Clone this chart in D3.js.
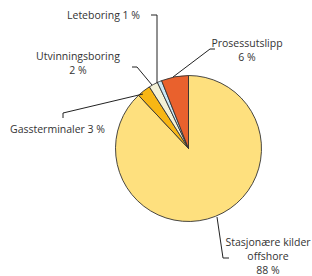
<!DOCTYPE html>
<html><head><meta charset="utf-8">
<script src="https://cdn.jsdelivr.net/npm/d3@7"></script>
<style>html,body{margin:0;padding:0;background:#fff;}svg{display:block;}</style>
</head><body>
<svg id="c" width="312" height="276"></svg>
<script>
const categories = ["Stasjonære kilder offshore", "Gassterminaler", "Utvinningsboring", "Leteboring", "Prosessutslipp"];
const values = [88, 3, 2, 1, 6];
const labelLines = [["Stasjonære kilder", "offshore", "88 %"], ["Gassterminaler 3 %"], ["Utvinningsboring", "2 %"], ["Leteboring 1 %"], ["Prosessutslipp", "6 %"]];
const colors = ["#FEE07E", "#F8B614", "#F4F1D6", "#C9E7F6", "#E9612D"];

// layout (not data)
const cx = 188.5, cy = 148.5, r = 73;
const labelPos = [
  {x: 268, y: 246, anchor: "middle"},
  {x: 10, y: 133, anchor: "start"},
  {x: 78, y: 60, anchor: "middle"},
  {x: 67, y: 19, anchor: "start"},
  {x: 247, y: 47, anchor: "middle"}
];
const leaders = [
  [[217, 217], [223, 258], [229, 258]],
  [[63, 118], [63, 113], [143, 94]],
  [[132, 67], [137, 67], [152, 85]],
  [[151, 15], [157, 15], [157, 83]],
  [[215, 49], [210, 49], [173, 77]]
];

const svg = d3.select("#c");
const pie = d3.pie().sort(null).value(d => d).startAngle(0).endAngle(2 * Math.PI);
const arc = d3.arc().innerRadius(0).outerRadius(r);
const g = svg.append("g").attr("transform", `translate(${cx},${cy})`);
g.selectAll("path").data(pie(values)).join("path")
  .attr("d", arc)
  .attr("fill", (d, i) => colors[i])
  .attr("stroke", "#333")
  .attr("stroke-width", 0.9)
  .attr("stroke-linejoin", "round");

const line = d3.line();
svg.selectAll("path.leader").data(leaders).join("path")
  .attr("class", "leader")
  .attr("d", d => line(d))
  .attr("fill", "none")
  .attr("stroke", "#222")
  .attr("stroke-width", 1);

categories.forEach((c, i) => {
  const p = labelPos[i];
  const t = svg.append("text")
    .attr("x", p.x).attr("y", p.y)
    .attr("text-anchor", p.anchor)
    .attr("font-family", "'Open Sans', sans-serif")
    .attr("font-size", 10.5)
    .attr("fill", "#333");
  labelLines[i].forEach((l, j) => {
    t.append("tspan").attr("x", p.x).attr("dy", j === 0 ? 0 : 14).text(l);
  });
});
</script>
</body></html>
